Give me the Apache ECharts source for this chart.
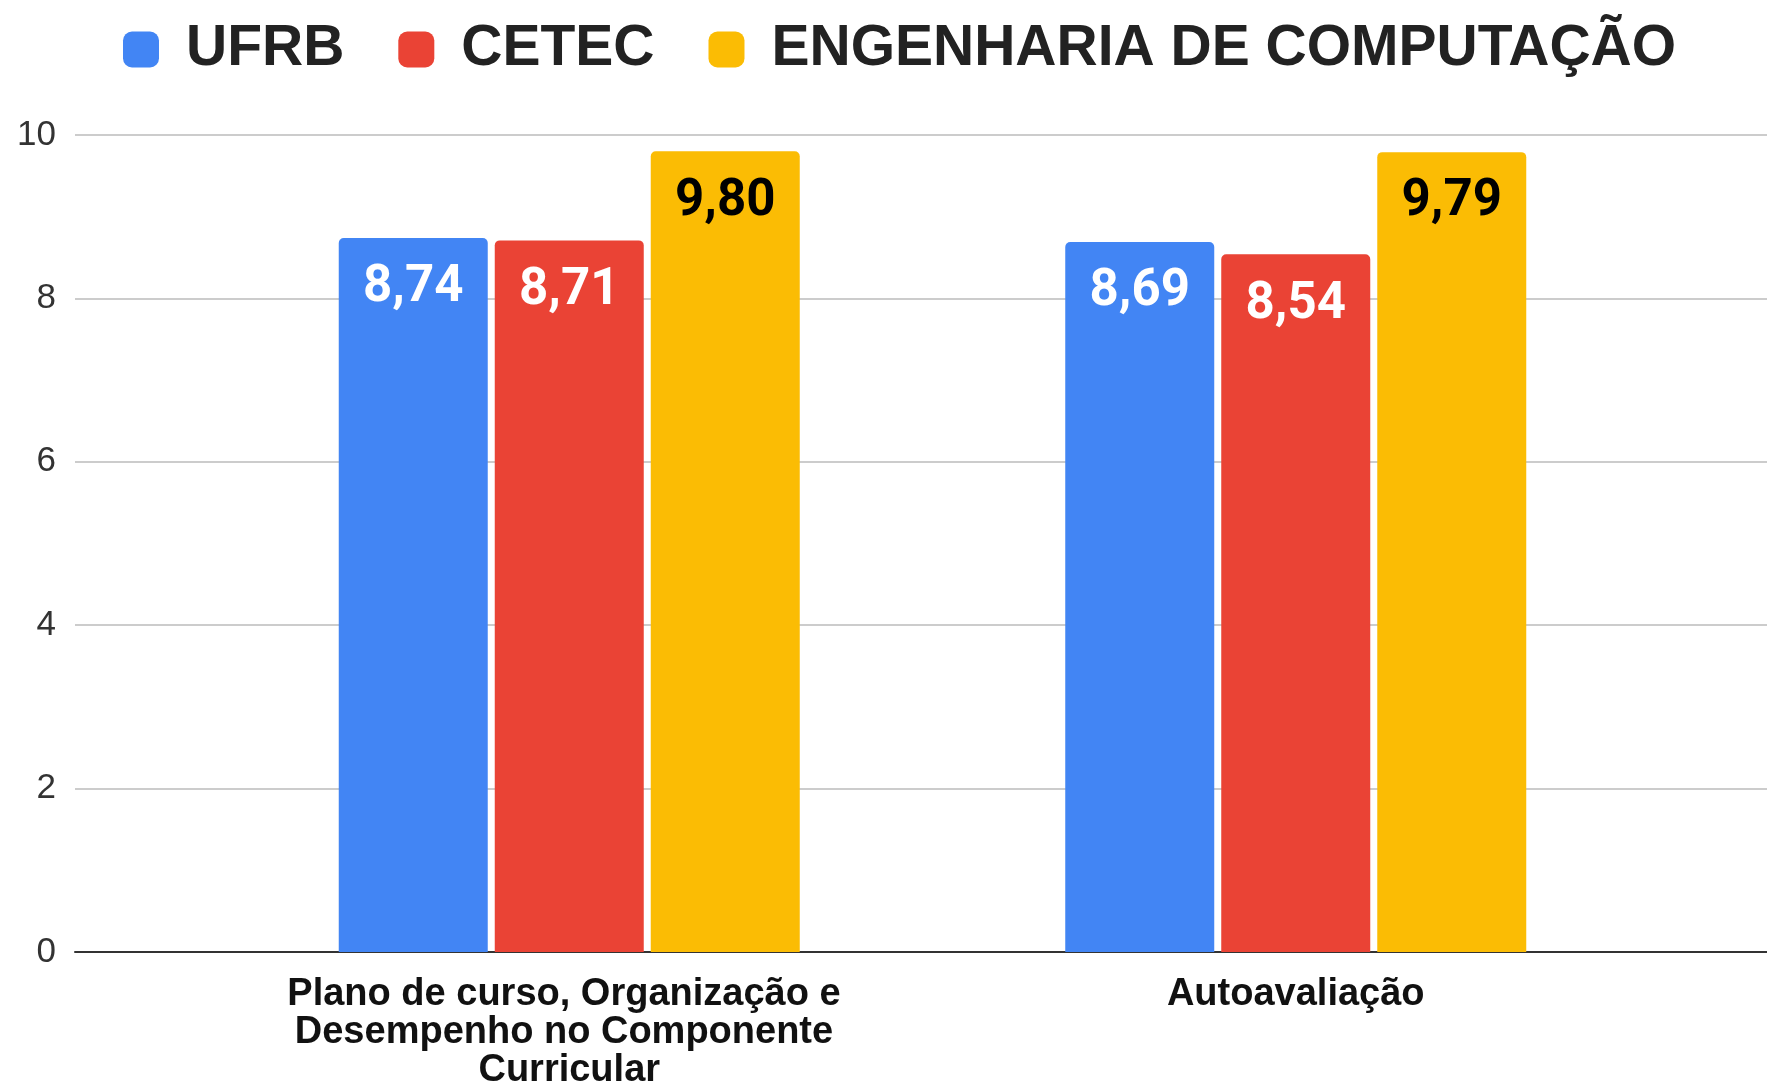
<!DOCTYPE html>
<html>
<head>
<meta charset="utf-8">
<script src="https://cdn.jsdelivr.net/npm/echarts@6/dist/echarts.min.js"></script>
<style>
  html, body { margin: 0; padding: 0; background: #fff; }
  #chart { width: 1767px; height: 1083px; }
</style>
</head>
<body>
<div id="chart"></div>
<script>
// categorias e notas
var categories = ['Plano de curso, Organização e Desempenho no Componente Curricular', 'Autoavaliação'];
var ufrb = [8.74, 8.69];
var cetec = [8.71, 8.54];
var engComp = [9.80, 9.79];
var yTicks = [0, 2, 4, 6, 8, 10];

var myChart = echarts.init(document.getElementById('chart'));

function fmt(p) {
    return p.value.toFixed(2).replace('.', ',');
}

function barSerie(name, data, color, labelColor) {
    return {
        name: name,
        type: 'bar',
        xAxisIndex: 1,
        yAxisIndex: 1,
        data: data,
        barWidth: 149,
        barGap: '4.7%',
        itemStyle: { color: color, borderRadius: [5, 5, 0, 0] },
        label: {
            show: true,
            position: 'insideTop',
            distance: 25,
            formatter: fmt,
            color: labelColor,
            fontFamily: 'Roboto',
            fontWeight: 'bold',
            fontSize: 51
        }
    };
}

var option = {
    animation: false,
    backgroundColor: '#fff',
    legend: {
        left: 118,
        top: 16,
        itemWidth: 36,
        itemHeight: 36,
        itemGap: 54,
        icon: 'roundRect',
        textStyle: {
            fontFamily: 'Liberation Sans',
            fontWeight: 'bold',
            fontSize: 57,
            color: '#222',
            padding: [0, 0, 0, 22]
        }
    },
    grid: [
        { left: 75, right: 0, top: 135, bottom: 131, outerBoundsMode: 'none' },
        { left: 206, right: 108, top: 135, bottom: 131, outerBoundsMode: 'none' }
    ],
    xAxis: [
        {
            gridIndex: 0,
            type: 'value',
            min: 0,
            max: 1,
            axisLine: { show: true, lineStyle: { color: '#333', width: 2 } },
            axisTick: { show: false },
            axisLabel: { show: false },
            splitLine: { show: false }
        },
        {
            gridIndex: 1,
            type: 'category',
            data: categories,
            axisLine: { show: false },
            axisTick: { show: false },
            axisLabel: {
                interval: 0,
                margin: 24,
                fontFamily: 'Liberation Sans',
                fontWeight: 'bold',
                fontSize: 38,
                lineHeight: 38,
                color: '#111',
                width: 620,
                overflow: 'break'
            }
        }
    ],
    yAxis: [
        {
            gridIndex: 0,
            type: 'value',
            min: yTicks[0],
            max: yTicks[yTicks.length - 1],
            interval: 2,
            axisLine: { show: false },
            axisTick: { show: false },
            axisLabel: {
                margin: 19,
                fontFamily: 'Liberation Sans',
                fontSize: 35,
                color: '#333'
            },
            splitLine: { lineStyle: { color: '#ccc', width: 2 } }
        },
        {
            gridIndex: 1,
            type: 'value',
            min: 0,
            max: 10,
            show: false
        }
    ],
    series: [
        barSerie('UFRB', ufrb, '#4285F4', '#fff'),
        barSerie('CETEC', cetec, '#EA4335', '#fff'),
        barSerie('ENGENHARIA DE COMPUTAÇÃO', engComp, '#FBBC04', '#000')
    ]
};

myChart.setOption(option);
</script>
</body>
</html>
